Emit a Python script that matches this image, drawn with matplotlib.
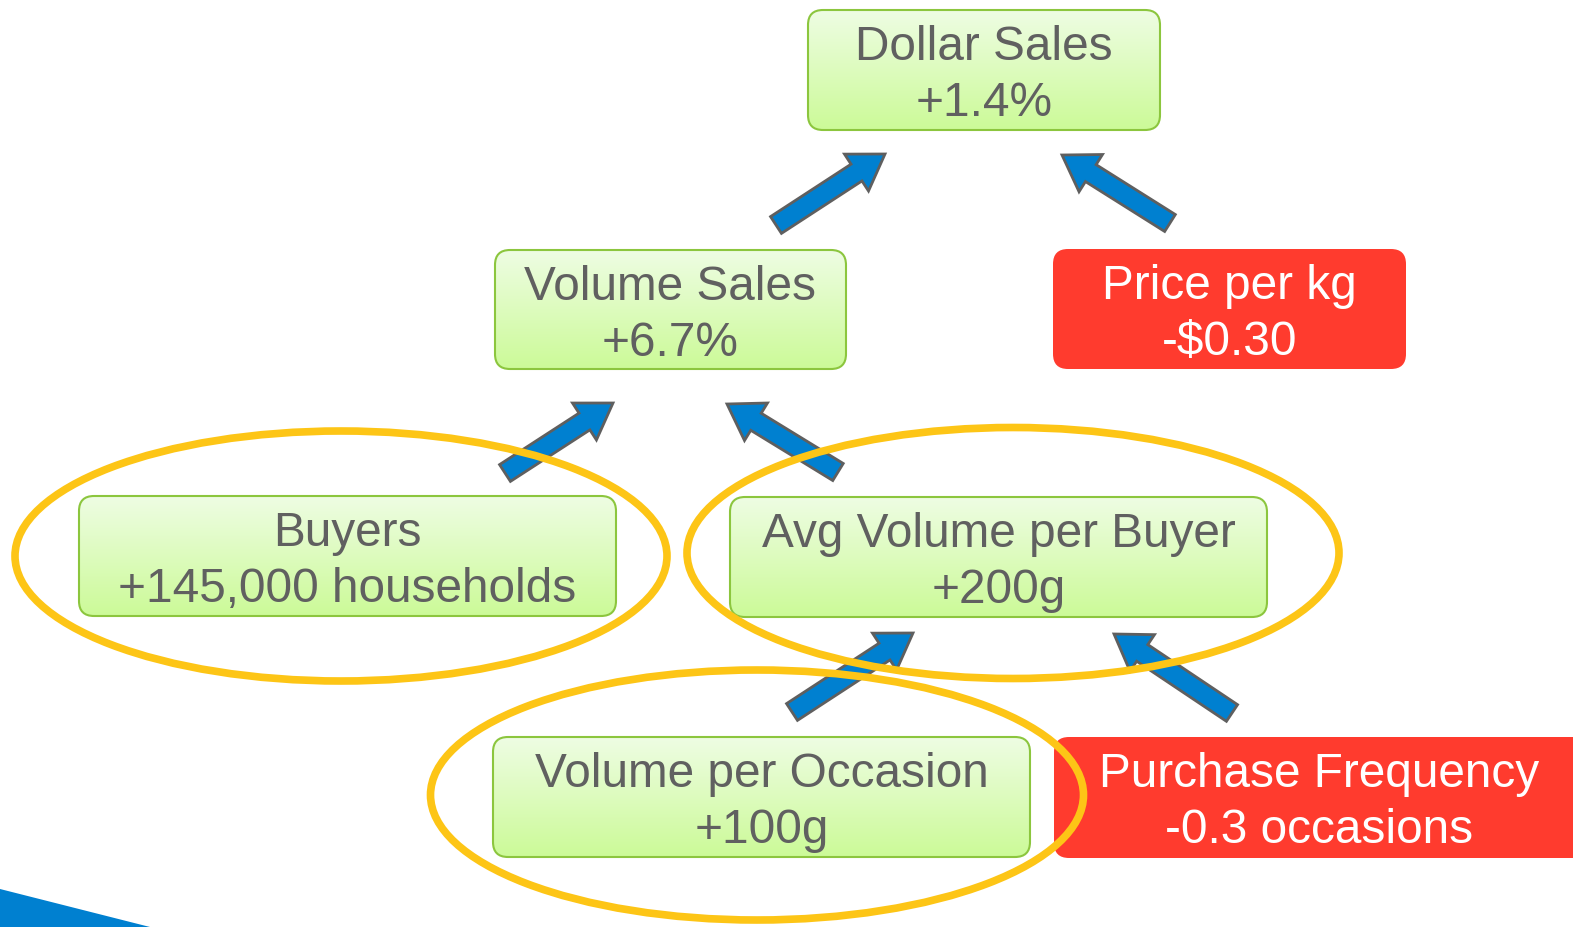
import matplotlib
matplotlib.use("Agg")
import matplotlib.pyplot as plt
import numpy as np
from matplotlib.patches import FancyBboxPatch, Ellipse, FancyArrow, Polygon
from matplotlib.colors import to_rgb

# ---- data ----
metrics = ["Dollar Sales", "Volume Sales", "Price per kg", "Buyers",
           "Avg Volume per Buyer", "Volume per Occasion", "Purchase Frequency"]
changes = ["+1.4%", "+6.7%", "-$0.30", "+145,000 households",
           "+200g", "+100g", "-0.3 occasions"]
is_negative = [False, False, True, False, False, False, True]
highlighted = ["Buyers", "Avg Volume per Buyer", "Volume per Occasion"]
# driver -> driven
links = [("Volume Sales", "Dollar Sales"), ("Price per kg", "Dollar Sales"),
         ("Buyers", "Volume Sales"), ("Avg Volume per Buyer", "Volume Sales"),
         ("Volume per Occasion", "Avg Volume per Buyer"),
         ("Purchase Frequency", "Avg Volume per Buyer")]

# ---- layout (pixel coordinates) ----
box_rect = {  # x0, y0, x1, y1
    "Dollar Sales": (808, 10, 1160, 130),
    "Volume Sales": (495, 250, 846, 369),
    "Price per kg": (1053, 249, 1406, 369),
    "Buyers": (79, 496, 616, 616),
    "Avg Volume per Buyer": (730, 497, 1267, 617),
    "Volume per Occasion": (493, 737, 1030, 857),
    "Purchase Frequency": (1054, 737, 1600, 858),
}
text_cx = {"Purchase Frequency": 1319}
ellipse_geom = {  # cx, cy, w, h
    "Buyers": (341, 556, 652, 250),
    "Avg Volume per Buyer": (1013, 553, 652, 251),
    "Volume per Occasion": (757, 795, 653, 250),
}
arrow_geom = {  # tail center, tip
    ("Volume Sales", "Dollar Sales"): ((776, 225), (885, 154)),
    ("Price per kg", "Dollar Sales"): ((1170, 223), (1062, 155)),
    ("Buyers", "Volume Sales"): ((505, 473), (613, 403)),
    ("Avg Volume per Buyer", "Volume Sales"): ((838, 472), (727, 404)),
    ("Volume per Occasion", "Avg Volume per Buyer"): ((792, 712), (913, 633)),
    ("Purchase Frequency", "Avg Volume per Buyer"): ((1232, 713), (1114, 634)),
}

W, H = 1573, 927
fig = plt.figure(figsize=(W / 100, H / 100), dpi=100)
ax = fig.add_axes([0, 0, 1, 1])
ax.set_xlim(0, W)
ax.set_ylim(H, 0)
ax.axis("off")

FONT = "Liberation Sans"
FS = 34.4
GREEN_TOP = np.array(to_rgb("#EEFDE3"))
GREEN_BOT = np.array(to_rgb("#CCFA98"))
GREEN_EDGE = "#8CC63E"
RED = "#FF3B2E"
GRAY_TXT = "#606060"
BLUE = "#0080D0"
ARROW_EDGE = "#5F5F5F"
YELLOW = "#FDC516"

for name, change, neg in zip(metrics, changes, is_negative):
    x0, y0, x1, y1 = box_rect[name]
    patch = FancyBboxPatch((x0, y0), x1 - x0, y1 - y0,
                           boxstyle="round,pad=0,rounding_size=15",
                           facecolor=RED if neg else "none",
                           edgecolor=RED if neg else GREEN_EDGE,
                           linewidth=1.5 if not neg else 0, zorder=2)
    ax.add_patch(patch)
    if not neg:
        t = np.linspace(0, 1, 100)[:, None, None]
        grad = GREEN_TOP * (1 - t) + GREEN_BOT * t
        im = ax.imshow(grad, extent=(x0, x1, y1, y0), origin="upper",
                       aspect="auto", zorder=1.5, interpolation="bilinear")
        im.set_clip_path(patch)
    cx = text_cx.get(name, (x0 + x1) / 2)
    col = "white" if neg else GRAY_TXT
    ax.text(cx, y0 + 50, name, ha="center", va="baseline", fontsize=FS,
            color=col, family=FONT, zorder=3)
    ax.text(cx, y0 + 106, change, ha="center", va="baseline", fontsize=FS,
            color=col, family=FONT, zorder=3)

for link in links:
    (tx, ty), (px, py) = arrow_geom[link]
    ax.add_patch(FancyArrow(tx, ty, px - tx, py - ty, width=20,
                            head_width=44, head_length=34,
                            length_includes_head=True,
                            facecolor=BLUE, edgecolor=ARROW_EDGE,
                            linewidth=2, zorder=4))

for name in highlighted:
    cx, cy, w, h = ellipse_geom[name]
    ax.add_patch(Ellipse((cx, cy), w, h, facecolor="none", edgecolor=YELLOW,
                         linewidth=5.5, zorder=5))

ax.add_patch(Polygon([(0, 889), (150, 927), (0, 927)], closed=True,
                     facecolor="#0080D0", edgecolor="none", zorder=1))

fig.savefig("out.png", dpi=100)
